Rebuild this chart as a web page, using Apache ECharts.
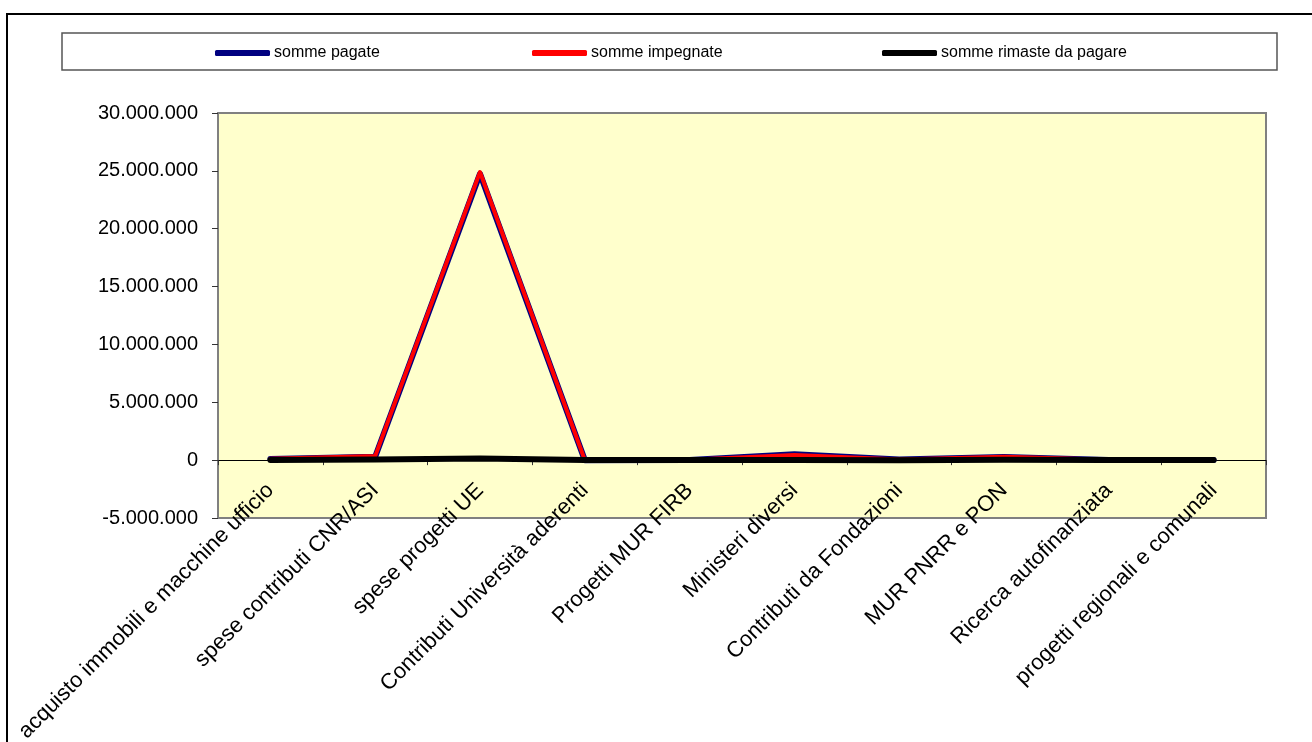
<!DOCTYPE html>
<html>
<head>
<meta charset="utf-8">
<script src="https://cdn.jsdelivr.net/npm/echarts@6/dist/echarts.min.js"></script>
<style>
html,body{margin:0;padding:0;background:#fff;}
#c{width:1312px;height:742px;}
</style>
</head>
<body>
<div id="c"></div>
<script>
const categories = [
  'acquisto immobili e macchine ufficio',
  'spese contributi CNR/ASI',
  'spese progetti UE',
  'Contributi Università aderenti',
  'Progetti MUR FIRB',
  'Ministeri diversi',
  'Contributi da Fondazioni',
  'MUR PNRR e PON',
  'Ricerca autofinanziata',
  'progetti regionali e comunali'
];
const sommePagate     = [100000, 300000, 24750000, 0, 20000, 500000, 50000, 270000, 20000, 10000];
const sommeImpegnate  = [120000, 350000, 24900000, 10000, 30000, 450000, 60000, 300000, 30000, 20000];
const sommeRimaste    = [20000, 50000, 150000, 10000, 10000, 20000, 0, 30000, 10000, 10000];
const yTicks = { min: -5000000, max: 30000000, interval: 5000000 };

const FONT = 'Liberation Sans, Arial, sans-serif';
function fmt(v){
  const neg = v < 0;
  let s = Math.abs(v).toString().replace(/\B(?=(\d{3})+(?!\d))/g, '.');
  return (neg ? '-' : '') + s;
}
const chart = echarts.init(document.getElementById('c'), null, {renderer:'canvas'});
const legendBase = {
  orient: 'horizontal', top: 40, itemWidth: 55, itemHeight: 6, itemGap: 4,
  icon: 'roundRect',
  textStyle: { fontFamily: FONT, fontSize: 16, color: '#000', padding: [0,0,0,-1] },
  selectedMode: false
};
chart.setOption({
  backgroundColor: '#fff',
  animation: false,
  graphic: [
    { type: 'rect', z: 0, shape: { x: 7, y: 14, width: 1320, height: 750 },
      style: { fill: 'none', stroke: '#000', lineWidth: 2 } },
    { type: 'rect', z: 0, shape: { x: 62, y: 33, width: 1215, height: 37 },
      style: { fill: '#fff', stroke: '#555', lineWidth: 1.5 } }
  ],
  legend: [
    Object.assign({}, legendBase, { left: 210, data: ['somme pagate'] }),
    Object.assign({}, legendBase, { left: 527, data: ['somme impegnate'] }),
    Object.assign({}, legendBase, { left: 877, data: ['somme rimaste da pagare'] })
  ],
  grid: {
    left: 218, right: 46, top: 113, bottom: 224,
    outerBoundsMode: 'none', containLabel: false,
    show: true, backgroundColor: '#FFFFCC', borderColor: '#808080', borderWidth: 2
  },
  xAxis: {
    type: 'category', data: categories, boundaryGap: true,
    axisLine: { onZero: true, lineStyle: { color: '#000', width: 1 } },
    axisTick: { show: true, length: 5, lineStyle: { color: '#333' } },
    axisLabel: { rotate: 45, interval: 0, margin: -31, fontFamily: FONT, fontSize: 22, color: '#000' },
    splitLine: { show: false }
  },
  yAxis: {
    type: 'value', min: yTicks.min, max: yTicks.max, interval: yTicks.interval,
    axisLine: { show: true, lineStyle: { color: '#808080', width: 2 } },
    axisTick: { show: true, length: 6, lineStyle: { color: '#333' } },
    axisLabel: { margin: 20, fontFamily: FONT, fontSize: 20, color: '#000', formatter: fmt },
    splitLine: { show: false }
  },
  series: [
    { name: 'somme pagate', type: 'line', data: sommePagate, showSymbol: false, symbol: 'none',
      color: '#000080', lineStyle: { color: '#000080', width: 6, cap: 'round', join: 'round' } },
    { name: 'somme impegnate', type: 'line', data: sommeImpegnate, showSymbol: false, symbol: 'none',
      color: '#FF0000', lineStyle: { color: '#FF0000', width: 4, cap: 'round', join: 'round' } },
    { name: 'somme rimaste da pagare', type: 'line', data: sommeRimaste, showSymbol: false, symbol: 'none',
      color: '#000000', lineStyle: { color: '#000000', width: 6, cap: 'round', join: 'round' } }
  ]
});
</script>
</body>
</html>
